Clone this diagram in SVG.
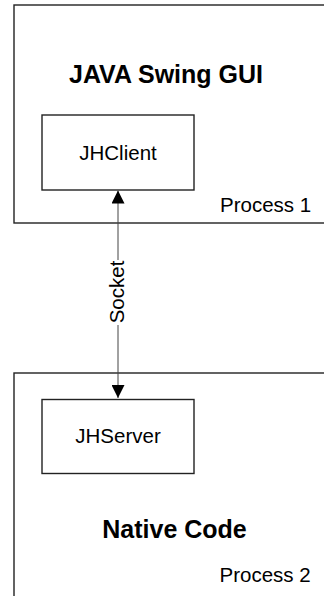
<svg xmlns="http://www.w3.org/2000/svg" width="324" height="596" viewBox="0 0 324 596">
<defs>
<style>
.box{fill:none;stroke:#222;stroke-width:1.4}
.node{fill:#fff;stroke:#222;stroke-width:1.4}
.title{font-family:"Liberation Sans",Arial,sans-serif;font-weight:bold;font-size:25px;fill:#000}
.lbl{font-family:"Liberation Sans",Arial,sans-serif;font-size:20.5px;fill:#000}
.conn{fill:none;stroke:#444;stroke-width:1}
</style>
<marker id="arr" markerUnits="userSpaceOnUse" markerWidth="13" markerHeight="13" refX="13" refY="6.5" orient="auto">
<path d="M0,0 L13,6.5 L0,13 z" fill="#000"/>
</marker>
</defs>
<rect width="324" height="596" fill="#fff"/>
<g id="process1">
<rect class="box" x="14" y="5" width="330" height="218"/>
<text class="title" x="166" y="83" text-anchor="middle">JAVA Swing GUI</text>
<text class="lbl" x="220" y="212">Process 1</text>
</g>
<g id="process2">
<rect class="box" x="14" y="373" width="330" height="240"/>
<text class="title" x="174.5" y="538" text-anchor="middle">Native Code</text>
<text class="lbl" x="219.5" y="581.5">Process 2</text>
</g>
<g id="jhclient">
<rect class="node" x="42" y="115" width="152" height="75"/>
<text class="lbl" x="118" y="159.5" text-anchor="middle">JHClient</text>
</g>
<g id="jhserver">
<rect class="node" x="42" y="399.5" width="152" height="74"/>
<text class="lbl" x="118" y="442.5" text-anchor="middle">JHServer</text>
</g>
<g id="connectors">
<path class="conn" d="M118,260 L118,190.5" marker-end="url(#arr)"/>
<path class="conn" d="M118,325 L118,398" marker-end="url(#arr)"/>
<text class="lbl" transform="translate(124,292) rotate(-90)" text-anchor="middle">Socket</text>
</g>
</svg>
